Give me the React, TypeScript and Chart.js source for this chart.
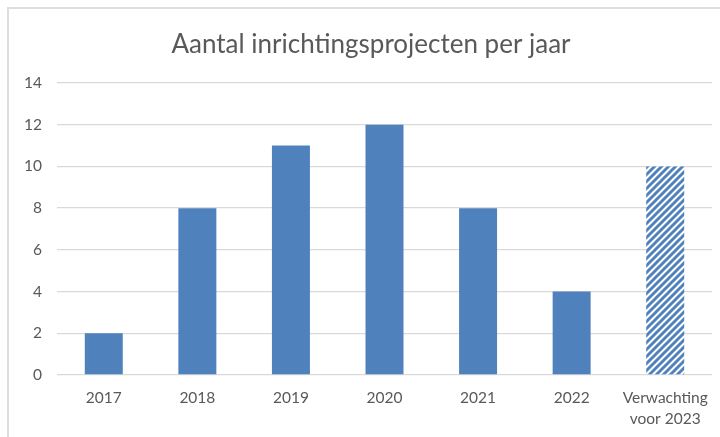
import React, { useEffect, useRef } from "react";
import { Chart, registerables } from "chart.js";

Chart.register(...registerables);

const TITLE = "Aantal inrichtingsprojecten per jaar";
const categories: (string | string[])[] = ["2017", "2018", "2019", "2020", "2021", "2022", ["Verwachting", "voor 2023"]];
const projectCounts = [2, 8, 11, 12, 8, 4, 10];
const yTicks = [0, 2, 4, 6, 8, 10, 12, 14];

const BLUE = "#4F81BD";
const TEXT = "#595959";
const GRID = "#D9D9D9";
const FONT = "Lato, 'Open Sans', sans-serif";

function makeHatch(): CanvasPattern | string {
  const s = 7;
  const c = document.createElement("canvas");
  c.width = s;
  c.height = s;
  const ctx = c.getContext("2d");
  if (!ctx) return BLUE;
  ctx.fillStyle = "#ffffff";
  ctx.fillRect(0, 0, s, s);
  ctx.strokeStyle = BLUE;
  ctx.lineWidth = 2.9;
  ctx.beginPath();
  ctx.moveTo(-1, s + 1);
  ctx.lineTo(s + 1, -1);
  ctx.moveTo(-2, 2);
  ctx.lineTo(2, -2);
  ctx.moveTo(s - 2, s + 2);
  ctx.lineTo(s + 2, s - 2);
  ctx.stroke();
  const p = ctx.createPattern(c, "repeat");
  return p || BLUE;
}

export default function App() {
  const ref = useRef<HTMLCanvasElement | null>(null);

  useEffect(() => {
    if (!ref.current) return;
    const hatch = makeHatch();
    const colors = projectCounts.map((_, i) => (i === projectCounts.length - 1 ? hatch : BLUE));
    const chart = new Chart(ref.current, {
      type: "bar",
      data: {
        labels: categories,
        datasets: [
          {
            data: projectCounts,
            backgroundColor: colors as any,
            borderWidth: 0,
            barPercentage: 0.406,
            categoryPercentage: 1,
            yAxisID: "y",
          },
        ],
      },
      options: {
        animation: false,
        responsive: false,
        maintainAspectRatio: false,
        layout: { padding: { left: 0, right: 2, top: 0, bottom: 0 } },
        plugins: {
          legend: { display: false },
          tooltip: { enabled: false },
          title: {
            display: true,
            text: TITLE,
            color: TEXT,
            font: { family: FONT, size: 26, weight: "normal", lineHeight: 1.2 },
            padding: { top: 21.5, bottom: 22.3 },
          },
        },
        scales: {
          x: {
            grid: { display: false, drawTicks: false },
            border: { display: false },
            ticks: {
              color: TEXT,
              font: { family: FONT, size: 15.5, lineHeight: 1.36 },
              padding: 12,
              maxRotation: 0,
              autoSkip: false,
            },
            afterFit: (scale: any) => {
              scale.height = 73;
            },
          },
          y: {
            min: 0,
            max: 14,
            afterBuildTicks: (scale: any) => {
              scale.ticks = yTicks.map((v) => ({ value: v }));
            },
            grid: { color: GRID, lineWidth: 1.3, drawTicks: false },
            border: { display: false },
            ticks: {
              color: TEXT,
              font: { family: FONT, size: 15.5 },
              padding: 15,
            },
            afterFit: (scale: any) => {
              scale.width = 49;
            },
          },
          yRightSpace: {
            type: "linear",
            position: "right",
            display: true,
            min: 0,
            max: 14,
            grid: { display: false, drawTicks: false },
            border: { display: false },
            ticks: { display: false },
            afterFit: (scale: any) => {
              scale.width = 22;
            },
          },
        },
      },
    });
    return () => chart.destroy();
  }, []);

  return (
    <div style={{ position: "fixed", left: 0, top: 0, width: 720, height: 437, overflow: "hidden", background: "#fff" }}>
      <div
        style={{
          position: "absolute",
          left: 7,
          top: 7,
          width: 740,
          height: 460,
          borderLeft: "2px solid #DEDEDE",
          borderTop: "2px solid #DEDEDE",
          boxSizing: "border-box",
        }}
      />
      <canvas ref={ref} width={728} height={440} style={{ position: "absolute", left: 8, top: 8, width: 728, height: 440 }} />
    </div>
  );
}
